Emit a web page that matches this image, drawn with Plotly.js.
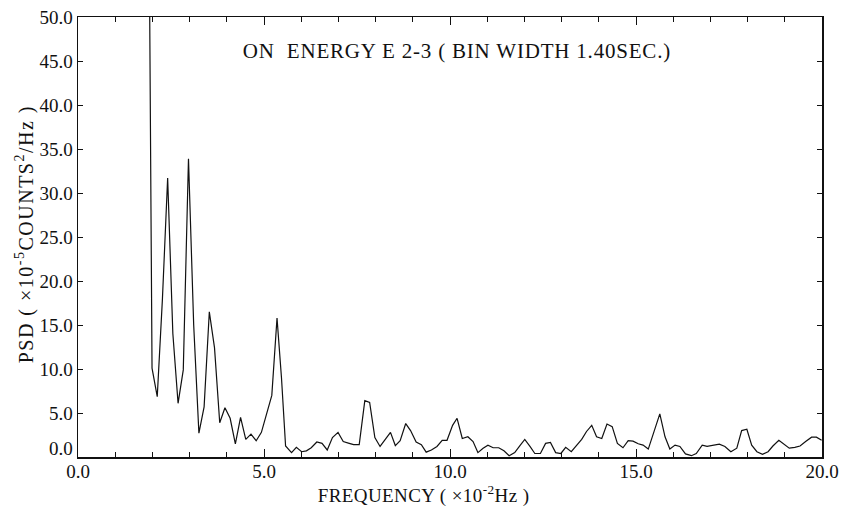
<!DOCTYPE html>
<html><head><meta charset="utf-8">
<script src="https://cdn.plot.ly/plotly-3.0.1.min.js"></script>
<style>
html,body{margin:0;padding:0;background:#fff}
#chart g.annotation[data-index="0"] text{letter-spacing:0.8px}
#chart g.annotation[data-index="1"] text{letter-spacing:0.4px}
#chart g.annotation[data-index="2"] text{letter-spacing:1.5px}
</style>
</head><body><div id="chart" style="width:844px;height:514px"></div>
<script>
const freq = [1.85, 1.99, 2.13, 2.27, 2.41, 2.55, 2.69, 2.83, 2.97, 3.11,
  3.25, 3.39, 3.53, 3.67, 3.81, 3.95, 4.09, 4.23, 4.37, 4.51,
  4.65, 4.79, 4.93, 5.07, 5.21, 5.35, 5.47, 5.58, 5.74, 5.87,
  6.01, 6.14, 6.27, 6.42, 6.56, 6.70, 6.84, 6.99, 7.13, 7.29,
  7.41, 7.56, 7.71, 7.84, 7.98, 8.12, 8.27, 8.40, 8.53, 8.66,
  8.81, 8.94, 9.09, 9.23, 9.36, 9.50, 9.65, 9.79, 9.92, 10.07,
  10.19, 10.33, 10.48, 10.62, 10.75, 10.89, 11.02, 11.16, 11.31, 11.45,
  11.59, 11.74, 11.88, 12.01, 12.15, 12.28, 12.43, 12.57, 12.70, 12.84,
  12.98, 13.11, 13.26, 13.40, 13.54, 13.67, 13.81, 13.94, 14.08, 14.22,
  14.36, 14.50, 14.65, 14.79, 14.92, 15.06, 15.19, 15.33, 15.49, 15.64,
  15.78, 15.91, 16.05, 16.18, 16.33, 16.49, 16.62, 16.78, 16.91, 17.07,
  17.24, 17.39, 17.55, 17.71, 17.84, 17.98, 18.11, 18.25, 18.40, 18.55,
  18.68, 18.84, 18.98, 19.12, 19.27, 19.41, 19.56, 19.72, 19.85, 19.99];

const psd = [100, 10.1, 6.85, 18, 31.7, 14, 6.1, 9.9, 33.9, 15,
  2.7, 5.7, 16.5, 12.4, 3.9, 5.6, 4.4, 1.5, 4.5, 2.0,
  2.6, 1.85, 2.8, 4.9, 7.0, 15.8, 9.0, 1.25, 0.5, 1.1,
  0.6, 0.7, 1.05, 1.7, 1.55, 0.8, 2.2, 2.8, 1.75, 1.55,
  1.4, 1.4, 6.4, 6.2, 2.2, 1.2, 2.1, 2.8, 1.3, 1.85,
  3.8, 3.0, 1.7, 1.4, 0.55, 0.8, 1.2, 1.9, 1.9, 3.6,
  4.4, 2.1, 2.3, 1.75, 0.5, 1.0, 1.35, 1.05, 1.05, 0.7,
  0.15, 0.5, 1.3, 2.0, 1.2, 0.4, 0.4, 1.55, 1.65, 0.5,
  0.4, 1.1, 0.6, 1.25, 2.0, 2.9, 3.6, 2.3, 2.1, 3.75,
  3.45, 1.55, 1.05, 1.85, 1.8, 1.5, 1.35, 0.9, 3.0, 4.9,
  2.3, 0.9, 1.35, 1.2, 0.35, 0.15, 0.4, 1.35, 1.2, 1.35,
  1.45, 1.2, 0.6, 1.0, 3.0, 3.15, 1.35, 0.6, 0.3, 0.6,
  1.25, 1.9, 1.5, 1.0, 1.1, 1.25, 1.75, 2.25, 2.25, 1.9];

const yTickVals = [5, 10, 15, 20, 25, 30, 35, 40, 45, 50];
const yTickText = ["5.0", "10.0", "15.0", "20.0", "25.0", "30.0", "35.0", "40.0", "45.0", "50.0"];
const yZeroLabel = "0.0";
const xTickVals = [0, 5, 10, 15, 20];
const xTickText = ["0.0", "5.0", "10.0", "15.0", "20.0"];

const chartTitle = "ON  ENERGY E 2-3 ( BIN WIDTH 1.40SEC.)";
const xTitle = "FREQUENCY ( ×10<sup>-2</sup>Hz )";
const yTitle = "PSD ( ×10<sup>-5</sup>COUNTS<sup>2</sup>/Hz )";

const FONT = "Liberation Serif, Times New Roman, serif";
const INK = "#111";

const trace = {
  x: freq, y: psd, type: "scatter", mode: "lines",
  line: {color: INK, width: 1.2}, hoverinfo: "skip", showlegend: false
};

const layout = {
  width: 844, height: 514,
  margin: {l: 78, r: 22, t: 17, b: 57},
  paper_bgcolor: "#fff", plot_bgcolor: "#fff",
  font: {family: FONT, color: INK, size: 19},
  xaxis: {
    range: [0, 20], tickvals: xTickVals, ticktext: xTickText,
    ticks: "inside", ticklen: 8, tickwidth: 1, tickcolor: INK,
    minor: {dtick: 1, tick0: 0, ticks: "inside", ticklen: 5, tickwidth: 1, tickcolor: INK},
    showline: true, linecolor: INK, linewidth: 1.5, mirror: "allticks",
    showgrid: false, zeroline: false, ticklabelstandoff: -3,
    tickfont: {family: FONT, size: 19, color: INK}
  },
  yaxis: {
    range: [0, 50], tickvals: yTickVals, ticktext: yTickText,
    ticks: "inside", ticklen: 5, tickwidth: 1, tickcolor: INK,
    showline: true, linecolor: INK, linewidth: 1.5, mirror: "allticks",
    showgrid: false, zeroline: false,
    tickfont: {family: FONT, size: 19, color: INK}
  },
  annotations: [
    {text: chartTitle, xref: "paper", yref: "paper", x: 0.509, y: 0.922,
     xanchor: "center", yanchor: "middle", showarrow: false,
     font: {family: FONT, size: 21, color: INK}},
    {text: xTitle, xref: "paper", yref: "paper", x: 0.465, y: -0.086,
     xanchor: "center", yanchor: "middle", showarrow: false,
     font: {family: FONT, size: 19, color: INK}},
    {text: yTitle, xref: "paper", yref: "paper", x: -0.071, y: 0.507,
     xanchor: "center", yanchor: "middle", showarrow: false, textangle: -90,
     font: {family: FONT, size: 20, color: INK}},
    {text: yZeroLabel, xref: "paper", yref: "y", x: 0, y: 0,
     xanchor: "right", yanchor: "middle", xshift: -3, yshift: 9, showarrow: false,
     font: {family: FONT, size: 19, color: INK}}
  ]
};

Plotly.newPlot("chart", [trace], layout, {displayModeBar: false, staticPlot: true});
</script>
</body></html>
